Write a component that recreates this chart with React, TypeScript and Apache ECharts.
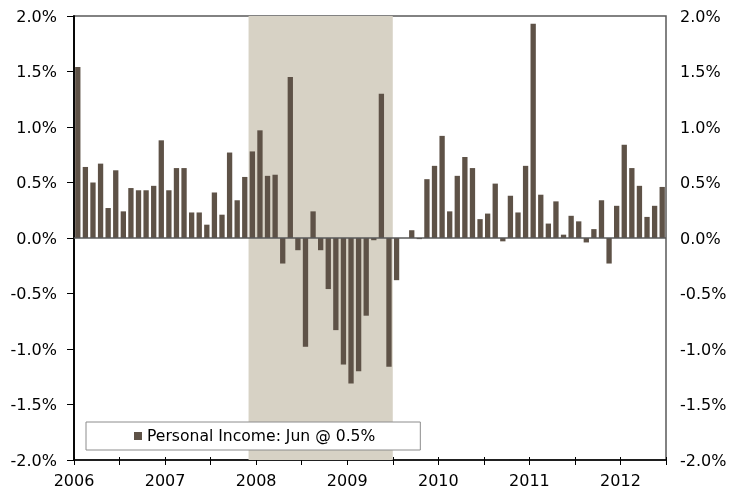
import React, { useEffect, useRef } from "react";
import * as echarts from "echarts";

const startYear = 2006;
const yearLabels = ["2006", "2007", "2008", "2009", "2010", "2011", "2012"];
const values2006 = [1.54, 0.64, 0.5, 0.67, 0.27, 0.61, 0.24, 0.45, 0.43, 0.43, 0.47, 0.88];
const values2007 = [0.43, 0.63, 0.63, 0.23, 0.23, 0.12, 0.41, 0.21, 0.77, 0.34, 0.55, 0.78];
const values2008 = [0.97, 0.56, 0.57, -0.23, 1.45, -0.11, -0.98, 0.24, -0.11, -0.46, -0.83, -1.14];
const values2009 = [-1.31, -1.2, -0.7, -0.02, 1.3, -1.16, -0.38, 0.0, 0.07, -0.01, 0.53, 0.65];
const values2010 = [0.92, 0.24, 0.56, 0.73, 0.63, 0.17, 0.22, 0.49, -0.03, 0.38, 0.23, 0.65];
const values2011 = [1.93, 0.39, 0.13, 0.33, 0.03, 0.2, 0.15, -0.04, 0.08, 0.34, -0.23, 0.29];
const values2012 = [0.84, 0.63, 0.47, 0.19, 0.29, 0.46];
const personalIncome = [
  ...values2006, ...values2007, ...values2008, ...values2009,
  ...values2010, ...values2011, ...values2012,
];
const months = personalIncome.map((_, i) => {
  const y = startYear + Math.floor(i / 12);
  const m = (i % 12) + 1;
  return `${y}-${m < 10 ? "0" + m : m}`;
});
const recession = ["2007-12", "2009-06"];
const seriesName = "Personal Income: Jun @ 0.5%";
const yTicks = [-2, -1.5, -1, -0.5, 0, 0.5, 1, 1.5, 2];

const FONT = "DejaVu Sans";

export default function App() {
  const ref = useRef<HTMLDivElement>(null);
  useEffect(() => {
    if (!ref.current) return;
    const chart = echarts.init(ref.current, null, { renderer: "svg" });
    const n = months.length;
    const recStart = months.indexOf(recession[0]);
    const recEnd = months.indexOf(recession[1]) + 1;
    const yMin = yTicks[0];
    const yMax = yTicks[yTicks.length - 1];
    const yInt = yTicks[1] - yTicks[0];
    const yLabel = (v: number) => v.toFixed(1) + "%";
    chart.setOption({
      animation: false,
      textStyle: { fontFamily: FONT },
      grid: {
        left: 74,
        right: 66,
        top: 16,
        bottom: 33,
        show: true,
        borderColor: "#595959",
        borderWidth: 1.5,
        backgroundColor: "transparent",
      },
      legend: {
        data: [seriesName],
        left: 86,
        top: 422,
        padding: [6, 45, 6, 48],
        borderColor: "#8c8c8c",
        borderWidth: 1,
        backgroundColor: "#ffffff",
        icon: "rect",
        itemWidth: 8,
        itemHeight: 8,
        itemGap: 4,
        textStyle: { fontFamily: FONT, fontSize: 15.6, color: "#000" },
      },
      xAxis: [
        {
          type: "category",
          data: months,
          boundaryGap: true,
          show: false,
        },
        {
          type: "value",
          min: 0,
          max: n,
          interval: 6,
          position: "bottom",
          axisLine: { show: true, onZero: false, lineStyle: { color: "#000", width: 1.5 } },
          axisTick: { show: true, inside: false, length: 5, lineStyle: { color: "#000" } },
          axisLabel: {
            show: true,
            margin: 12,
            fontFamily: FONT,
            fontSize: 16,
            color: "#000",
            formatter: (v: number) => (v % 12 === 0 ? yearLabels[v / 12] ?? "" : ""),
          },
          splitLine: { show: false },
        },
        {
          type: "value",
          min: 0,
          max: n,
          interval: 6,
          position: "bottom",
          axisLine: { show: false, onZero: false },
          axisTick: { show: true, inside: true, length: 3, lineStyle: { color: "#000" } },
          axisLabel: { show: false },
          splitLine: { show: false },
        },
      ],
      yAxis: [
        {
          type: "value",
          position: "left",
          min: yMin,
          max: yMax,
          interval: yInt,
          axisLine: { show: true, lineStyle: { color: "#000", width: 1.5 } },
          axisTick: { show: true, inside: false, length: 7, lineStyle: { color: "#000" } },
          axisLabel: { margin: 17, fontFamily: FONT, fontSize: 16, color: "#000", formatter: yLabel },
          splitLine: { show: false },
        },
        {
          type: "value",
          position: "right",
          min: yMin,
          max: yMax,
          interval: yInt,
          axisLine: { show: true, lineStyle: { color: "#000", width: 1.5 } },
          axisTick: { show: true, inside: true, length: 5, lineStyle: { color: "#000" } },
          axisLabel: { margin: 14, fontFamily: FONT, fontSize: 16, color: "#000", formatter: yLabel },
          splitLine: { show: false },
        },
      ],
      series: [
        {
          type: "line",
          name: "recession",
          xAxisIndex: 1,
          yAxisIndex: 0,
          data: [],
          silent: true,
          z: 1,
          markArea: {
            silent: true,
            itemStyle: { color: "#d7d2c5" },
            data: [[{ xAxis: recStart }, { xAxis: recEnd }]],
          },
        },
        {
          type: "bar",
          name: seriesName,
          xAxisIndex: 0,
          yAxisIndex: 0,
          data: personalIncome,
          barWidth: "70%",
          itemStyle: { color: "#5e5247" },
          z: 3,
          markLine: {
            silent: true,
            symbol: "none",
            label: { show: false },
            lineStyle: { color: "#595959", width: 1.5, type: "solid" },
            data: [{ yAxis: 0 }],
          },
        },
      ],
    });
    return () => chart.dispose();
  }, []);
  return (
    <div
      ref={ref}
      style={{ position: "fixed", left: 0, top: 0, width: 732, height: 493 }}
    />
  );
}
